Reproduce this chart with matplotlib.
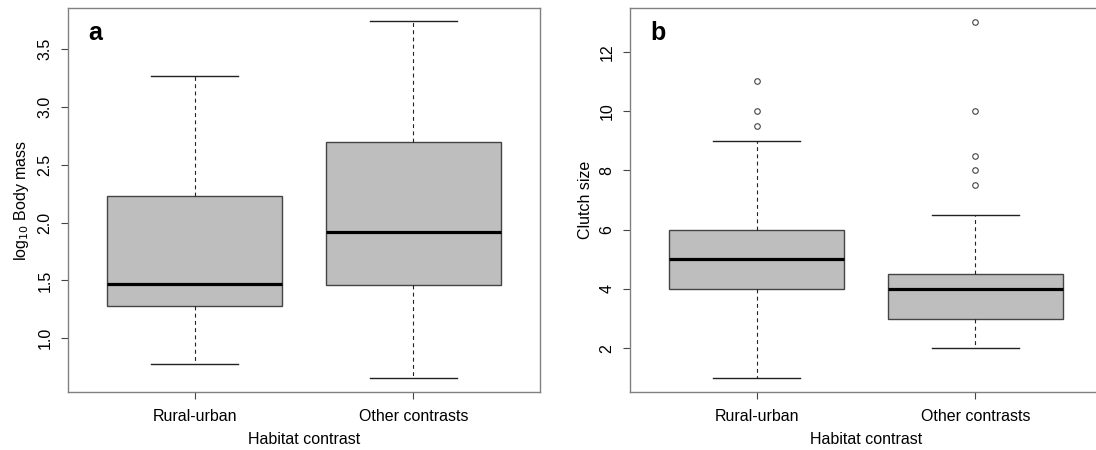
import matplotlib
matplotlib.use('Agg')
import matplotlib.pyplot as plt

plt.rcParams['font.family'] = ['Liberation Sans', 'DejaVu Sans']

groups = ["Rural-urban", "Other contrasts"]

# log10 body mass summaries
mass_whislo = [0.775, 0.658]
mass_q1 = [1.277, 1.463]
mass_med = [1.467, 1.921]
mass_q3 = [2.233, 2.696]
mass_whishi = [3.27, 3.742]
mass_fliers = [[], []]

# clutch size summaries
clutch_whislo = [1, 2]
clutch_q1 = [4, 3]
clutch_med = [5, 4]
clutch_q3 = [6, 4.5]
clutch_whishi = [9, 6.5]
clutch_fliers = [[9.5, 10, 11], [7.5, 8, 8.5, 10, 13]]

mass_ticks = [1.0, 1.5, 2.0, 2.5, 3.0, 3.5]
clutch_ticks = [2, 4, 6, 8, 10, 12]


def make_stats(lo, q1, med, q3, hi, fl):
    return [dict(whislo=lo[i], q1=q1[i], med=med[i], q3=q3[i], whishi=hi[i],
                 fliers=fl[i], label=groups[i]) for i in range(len(groups))]


def dibujar(ax, stats, ylim, yticks, ytickfmt, ylabel, letra):
    ax.bxp(stats, positions=[1, 2], widths=0.8, capwidths=0.4,
           patch_artist=True, showfliers=True,
           boxprops=dict(facecolor='#BEBEBE', edgecolor='#444444', linewidth=1.0),
           medianprops=dict(color='black', linewidth=2.3, solid_capstyle='butt'),
           whiskerprops=dict(color='#222222', linewidth=0.8, linestyle=(0, (3.5, 3))),
           capprops=dict(color='#222222', linewidth=1.0),
           flierprops=dict(marker='o', markerfacecolor='none', markeredgecolor='#444444',
                           markersize=4, markeredgewidth=0.8))
    ax.set_xlim(0.42, 2.58)
    ax.set_ylim(*ylim)
    ax.set_yticks(yticks)
    ax.set_yticklabels([ytickfmt.format(t) for t in yticks], rotation=90, va='center')
    ax.set_xticks([1, 2])
    ax.set_xticklabels(groups)
    for s in ax.spines.values():
        s.set_color('#808080')
        s.set_linewidth(1.0)
    ax.tick_params(axis='both', direction='out', length=5, width=0.8, color='#444444',
                   labelsize=11.5, pad=7)
    ax.tick_params(axis='y', pad=6)
    ax.set_xlabel("Habitat contrast", fontsize=11.5, labelpad=6)
    ax.set_ylabel(ylabel, fontsize=11.5, labelpad=5)
    ax.text(0.043, 0.935, letra, transform=ax.transAxes, fontsize=18, fontweight='bold',
            va='center', ha='left')


fig = plt.figure(figsize=(10.96, 4.5), dpi=100)
ax1 = fig.add_axes([68 / 1096, 58 / 450, 472 / 1096, 384 / 450])
ax2 = fig.add_axes([630 / 1096, 58 / 450, 472 / 1096, 384 / 450])

dibujar(ax1, make_stats(mass_whislo, mass_q1, mass_med, mass_q3, mass_whishi, mass_fliers),
        (0.535, 3.855), mass_ticks, "{:.1f}", r"log$_{10}$ Body mass", "a")
dibujar(ax2, make_stats(clutch_whislo, clutch_q1, clutch_med, clutch_q3, clutch_whishi, clutch_fliers),
        (0.52, 13.48), clutch_ticks, "{:d}", "Clutch size", "b")

fig.savefig("out.png", dpi=100)
plt.close(fig)
